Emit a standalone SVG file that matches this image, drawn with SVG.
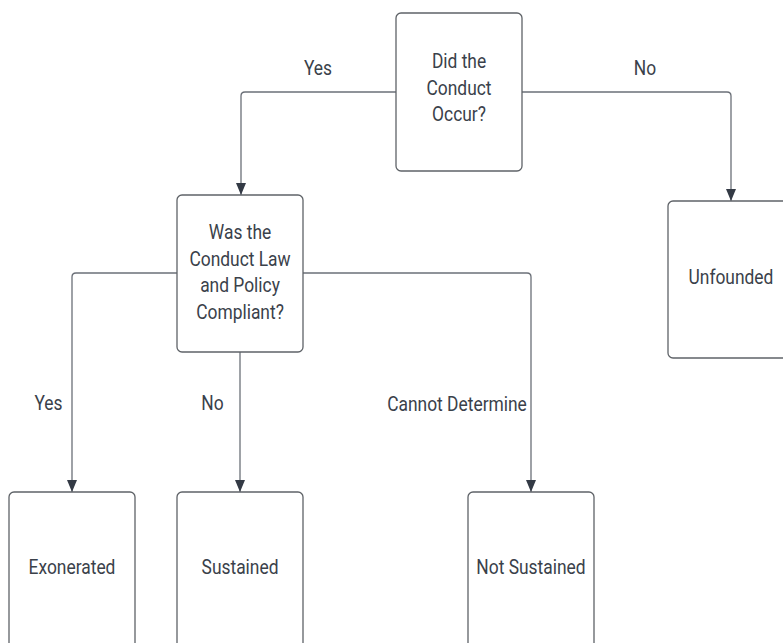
<svg xmlns="http://www.w3.org/2000/svg" width="783" height="643" viewBox="0 0 783 643">
<defs>
<style>
.box{fill:#ffffff;stroke:#5f6368;stroke-width:1.3}
.t{font-family:Roboto,"Liberation Sans",sans-serif;font-size:20px;fill:#3a414a;text-anchor:middle}
.c{fill:none;stroke:#6b7078;stroke-width:1.3}
</style>
<marker id="ah" markerUnits="userSpaceOnUse" markerWidth="10" markerHeight="12" viewBox="0 0 10 12" refX="5" refY="12" orient="auto-start-reverse">
<path d="M0,0 L10,0 L5,12 Z" fill="#333a45" transform="rotate(-90 5 6)"/>
</marker>
<marker id="arr" markerUnits="userSpaceOnUse" markerWidth="12" markerHeight="10" viewBox="0 0 12 10" refX="12" refY="5" orient="auto">
<path d="M0,0 L12,5 L0,10 Z" fill="#333a45"/>
</marker>
</defs>
<rect width="783" height="643" fill="#ffffff"/>
<g id="connectors">
<path class="c" d="M396,92 H245 Q241,92 241,96 V195" marker-end="url(#arr)"/>
<path class="c" d="M522,92 H727 Q731,92 731,96 V201" marker-end="url(#arr)"/>
<path class="c" d="M177,273 H76 Q72,273 72,277 V492" marker-end="url(#arr)"/>
<path class="c" d="M303,273 H527 Q531,273 531,277 V492" marker-end="url(#arr)"/>
<path class="c" d="M240,352 V492" marker-end="url(#arr)"/>
<text class="t" transform="scale(0.87 1)" x="365.5" y="75">Yes</text>
<text class="t" transform="scale(0.87 1)" x="741.4" y="75">No</text>
<text class="t" transform="scale(0.87 1)" x="55.7" y="410">Yes</text>
<text class="t" transform="scale(0.87 1)" x="244.3" y="410">No</text>
<text class="t" transform="scale(0.87 1)" x="525.3" y="411">Cannot Determine</text>
</g>
<g id="n-occur">
<rect class="box" x="396" y="13" width="126" height="158" rx="5"/>
<text class="t" transform="scale(0.87 1)" x="527.6" y="68">Did the</text>
<text class="t" transform="scale(0.87 1)" x="527.6" y="95">Conduct</text>
<text class="t" transform="scale(0.87 1)" x="527.6" y="121">Occur?</text>
</g>
<g id="n-compliant">
<rect class="box" x="177" y="195" width="126" height="157" rx="5"/>
<text class="t" transform="scale(0.87 1)" x="275.9" y="239">Was the</text>
<text class="t" transform="scale(0.87 1)" x="275.9" y="266">Conduct Law</text>
<text class="t" transform="scale(0.87 1)" x="275.9" y="292">and Policy</text>
<text class="t" transform="scale(0.87 1)" x="275.9" y="319">Compliant?</text>
</g>
<g id="n-unfounded">
<rect class="box" x="668" y="201" width="126" height="157" rx="5"/>
<text class="t" transform="scale(0.87 1)" x="840.2" y="284">Unfounded</text>
</g>
<g id="n-exonerated">
<rect class="box" x="9" y="492" width="126" height="160" rx="5"/>
<text class="t" transform="scale(0.87 1)" x="82.8" y="574">Exonerated</text>
</g>
<g id="n-sustained">
<rect class="box" x="177" y="492" width="126" height="160" rx="5"/>
<text class="t" transform="scale(0.87 1)" x="275.9" y="574">Sustained</text>
</g>
<g id="n-notsustained">
<rect class="box" x="468" y="492" width="126" height="160" rx="5"/>
<text class="t" transform="scale(0.87 1)" x="610.3" y="574">Not Sustained</text>
</g>
</svg>
